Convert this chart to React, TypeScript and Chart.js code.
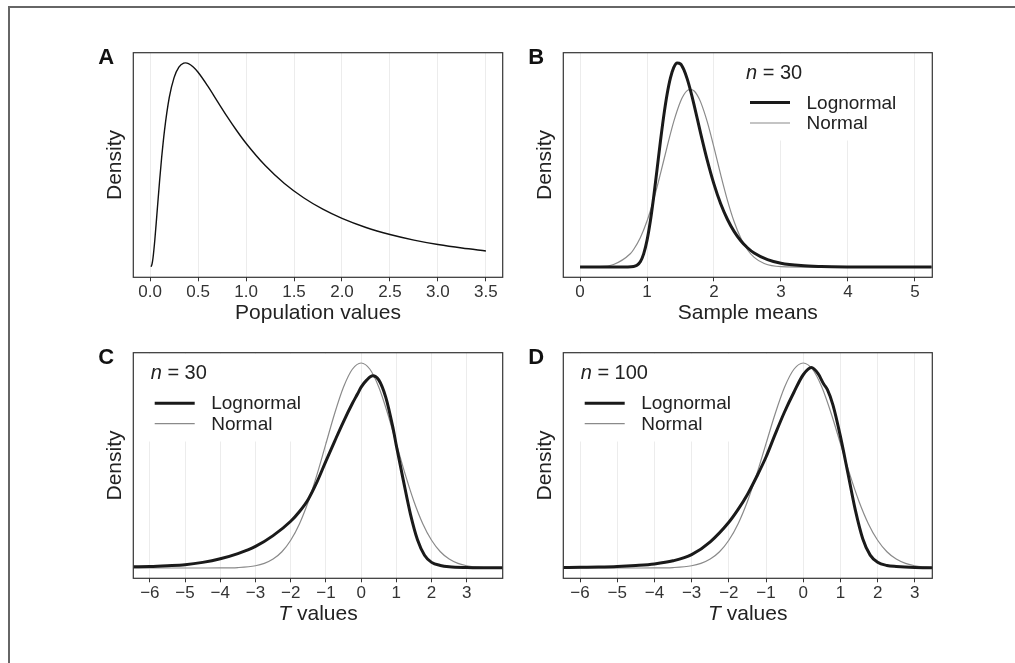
import React, { useEffect, useRef } from "react";
import { Chart, registerables } from "chart.js";

Chart.register(...registerables);

const FONT = '"Liberation Sans", Arial, Helvetica, sans-serif';

// ---------- Panel A: population (lognormal) ----------
const A_X = [0.01, 0.02, 0.03, 0.05, 0.07, 0.1, 0.12, 0.15, 0.2, 0.25, 0.3, 0.35, 0.37, 0.4, 0.45, 0.5, 0.6, 0.7, 0.8, 0.9, 1.0, 1.2, 1.4, 1.6, 1.8, 2.0, 2.25, 2.5, 2.75, 3.0, 3.25, 3.5];
const A_Y = [0.001, 0.0095, 0.0284, 0.0898, 0.166, 0.2815, 0.3512, 0.4398, 0.5463, 0.6104, 0.6442, 0.6569, 0.6577, 0.6554, 0.6445, 0.6275, 0.5836, 0.5348, 0.4864, 0.4408, 0.3989, 0.327, 0.2693, 0.2233, 0.1865, 0.1569, 0.1276, 0.1049, 0.087, 0.0727, 0.0613, 0.052];
const A_TICKS = [0, 0.5, 1, 1.5, 2, 2.5, 3, 3.5];
const A_LABELS = ["0.0", "0.5", "1.0", "1.5", "2.0", "2.5", "3.0", "3.5"];

// ---------- Panel B: sample means, n = 30 ----------
const B_LOG_X = [0, 0.5, 0.7, 0.8, 0.85, 0.9, 0.95, 1.0, 1.05, 1.1, 1.15, 1.2, 1.25, 1.3, 1.35, 1.4, 1.45, 1.5, 1.55, 1.6, 1.65, 1.7, 1.8, 1.9, 2.0, 2.1, 2.2, 2.3, 2.4, 2.5, 2.6, 2.8, 3.0, 3.3, 3.6, 4.0, 4.5, 5.25];
const B_LOG_Y = [0, 0, 0.0005, 0.003, 0.01, 0.03, 0.075, 0.152, 0.262, 0.4, 0.556, 0.714, 0.86, 0.983, 1.076, 1.135, 1.16, 1.155, 1.123, 1.07, 1.003, 0.927, 0.762, 0.607, 0.472, 0.36, 0.272, 0.203, 0.15, 0.11, 0.08, 0.042, 0.022, 0.0085, 0.0035, 0.001, 0.0003, 0];
const B_NORM_X = [0, 0.25, 0.5, 0.75, 0.8, 0.9, 1.0, 1.1, 1.2, 1.3, 1.4, 1.5, 1.55, 1.6, 1.65, 1.7, 1.75, 1.8, 1.9, 2.0, 2.1, 2.2, 2.3, 2.4, 2.5, 2.6, 2.75, 3.0, 3.5, 4.0, 5.25];
const B_NORM_Y = [0.0002, 0.0019, 0.0146, 0.0756, 0.1001, 0.1672, 0.2617, 0.3845, 0.5297, 0.6841, 0.8287, 0.9416, 0.9799, 1.0033, 1.011, 1.0025, 0.978, 0.9393, 0.8254, 0.6802, 0.5257, 0.381, 0.2592, 0.165, 0.0987, 0.0553, 0.0206, 0.0029, 0.0001, 0, 0];
const B_TICKS = [0, 1, 2, 3, 4, 5];
const B_LABELS = ["0", "1", "2", "3", "4", "5"];

// ---------- Panels C / D: T values ----------
const C_LOG_X = [-6.47, -6, -5.5, -5, -4.5, -4, -3.5, -3, -2.5, -2, -1.75, -1.5, -1.25, -1, -0.75, -0.5, -0.25, -0.1, 0, 0.15, 0.33, 0.5, 0.7, 0.9, 1.0, 1.2, 1.4, 1.6, 1.8, 2.0, 2.25, 2.5, 3.0, 3.5, 4.02];
const C_LOG_Y = [0.0025, 0.003, 0.0045, 0.0065, 0.011, 0.018, 0.028, 0.042, 0.063, 0.091, 0.11, 0.134, 0.168, 0.208, 0.247, 0.285, 0.32, 0.339, 0.352, 0.365, 0.374, 0.366, 0.332, 0.274, 0.238, 0.17, 0.105, 0.055, 0.025, 0.011, 0.005, 0.0025, 0.001, 0.0005, 0.0003];
const D_LOG_X = [-6.45, -6, -5.5, -5, -4.5, -4, -3.5, -3, -2.5, -2, -1.75, -1.5, -1.25, -1, -0.75, -0.5, -0.25, 0, 0.22, 0.4, 0.55, 0.65, 0.8, 1.0, 1.2, 1.4, 1.6, 1.8, 2.0, 2.25, 2.5, 3.0, 3.47];
const D_LOG_Y = [0.001, 0.0015, 0.002, 0.003, 0.005, 0.008, 0.014, 0.026, 0.051, 0.089, 0.114, 0.143, 0.178, 0.216, 0.261, 0.304, 0.342, 0.376, 0.39, 0.378, 0.358, 0.347, 0.317, 0.256, 0.185, 0.113, 0.057, 0.025, 0.011, 0.005, 0.003, 0.001, 0.0005];
const NORM_T_X = [-6.5, -5, -4.5, -4, -3.5, -3, -2.75, -2.5, -2.25, -2, -1.75, -1.5, -1.25, -1, -0.75, -0.5, -0.25, 0, 0.25, 0.5, 0.75, 1, 1.25, 1.5, 1.75, 2, 2.25, 2.5, 2.75, 3, 3.5, 4.02];
const NORM_T_Y = [0, 0, 0.00002, 0.0001, 0.0009, 0.0044, 0.0091, 0.0175, 0.0317, 0.054, 0.0863, 0.1295, 0.1826, 0.242, 0.3011, 0.3521, 0.3867, 0.3989, 0.3867, 0.3521, 0.3011, 0.242, 0.1826, 0.1295, 0.0863, 0.054, 0.0317, 0.0175, 0.0091, 0.0044, 0.0009, 0.0001];
const T_TICKS = [-6, -5, -4, -3, -2, -1, 0, 1, 2, 3];
const T_LABELS = ["\u22126", "\u22125", "\u22124", "\u22123", "\u22122", "\u22121", "0", "1", "2", "3"];

const SERIES_NAMES = ["Lognormal", "Normal"];
const BLACK = "#1a1a1a";
const GRAY = "#8a8a8a";

const pts = (xs: number[], ys: number[]) => xs.map((x, i) => ({ x, y: ys[i] }));

const decorPlugin = {
  id: "decor",
  beforeDatasetsDraw(chart: any, _a: any, opts: any) {
    const { ctx, chartArea: a } = chart;
    if (opts.legend) {
      const b = opts.legend.box;
      ctx.save();
      ctx.fillStyle = "#ffffff";
      ctx.fillRect(a.left + b[0], a.top + b[1], b[2], b[3]);
      ctx.restore();
    }
  },
  afterDraw(chart: any, _a: any, opts: any) {
    const { ctx, chartArea: a } = chart;
    ctx.save();
    ctx.strokeStyle = "#333333";
    ctx.lineWidth = 1.2;
    ctx.strokeRect(a.left, a.top, a.right - a.left, a.bottom - a.top);

    ctx.fillStyle = "#111111";
    ctx.font = `bold 22px ${FONT}`;
    ctx.textAlign = "center";
    ctx.textBaseline = "middle";
    ctx.fillText(opts.letter, a.left - 27, a.top + 5);

    if (opts.legend) {
      const lx = a.left + opts.legend.x;
      const ly = a.top + opts.legend.y;
      ctx.textAlign = "left";
      ctx.fillStyle = "#222222";
      ctx.font = `italic 20px ${FONT}`;
      ctx.fillText("n", lx, ly);
      const w = ctx.measureText("n").width;
      ctx.font = `20px ${FONT}`;
      ctx.fillText(" = " + opts.legend.n, lx + w, ly);
      chart.data.datasets.forEach((ds: any, i: number) => {
        const yy = ly + 29.5 + i * 20.5;
        ctx.strokeStyle = ds.borderColor;
        ctx.lineWidth = ds.borderWidth;
        ctx.beginPath();
        ctx.moveTo(lx + 4, yy);
        ctx.lineTo(lx + 44, yy);
        ctx.stroke();
        ctx.font = `19px ${FONT}`;
        ctx.fillText(ds.label, lx + 60.5, yy + 1);
      });
    }

    if (opts.italicTitle) {
      const cx = (a.left + a.right) / 2;
      const cy = a.bottom + 35.7;
      ctx.font = `italic 21px ${FONT}`;
      const w1 = ctx.measureText(opts.italicTitle[0]).width;
      ctx.font = `21px ${FONT}`;
      const w2 = ctx.measureText(opts.italicTitle[1]).width;
      const x0 = cx - (w1 + w2) / 2;
      ctx.fillStyle = "#222222";
      ctx.textAlign = "left";
      ctx.textBaseline = "middle";
      ctx.font = `italic 21px ${FONT}`;
      ctx.fillText(opts.italicTitle[0], x0, cy);
      ctx.font = `21px ${FONT}`;
      ctx.fillText(opts.italicTitle[1], x0 + w1, cy);
    }
    ctx.restore();
  },
};

type PanelProps = {
  left: number;
  top: number;
  width: number;
  height: number;
  plotLeft: number;
  plotTop: number;
  plotRight: number;
  plotBottom: number;
  xMin: number;
  xMax: number;
  yMin: number;
  yMax: number;
  ticks: number[];
  labels: string[];
  datasets: any[];
  xTitle?: string;
  italicTitle?: [string, string];
  letter: string;
  legend?: any;
};

function Panel(p: PanelProps) {
  const ref = useRef<HTMLCanvasElement>(null);
  useEffect(() => {
    const yAxisW = p.plotLeft - p.left;
    const xAxisH = p.top + p.height - p.plotBottom;
    const chart = new Chart(ref.current!, {
      type: "line",
      data: { datasets: p.datasets },
      plugins: [decorPlugin],
      options: {
        animation: false,
        responsive: false,
        maintainAspectRatio: false,
        devicePixelRatio: 1,
        layout: {
          autoPadding: false,
          padding: {
            left: 0,
            bottom: 0,
            top: p.plotTop - p.top,
            right: p.left + p.width - p.plotRight,
          },
        },
        elements: { point: { radius: 0 } },
        plugins: {
          legend: { display: false },
          tooltip: { enabled: false },
          decor: { letter: p.letter, legend: p.legend, italicTitle: p.italicTitle },
        } as any,
        scales: {
          x: {
            type: "linear",
            min: p.xMin,
            max: p.xMax,
            afterBuildTicks: (s: any) => {
              s.ticks = p.ticks.map((v) => ({ value: v }));
            },
            afterFit: (s: any) => {
              s.height = xAxisH;
            },
            ticks: {
              callback: (_v: any, i: number) => p.labels[i],
              font: { size: 17, family: FONT },
              color: "#333333",
              padding: 1,
              maxRotation: 0,
              autoSkip: false,
            },
            grid: {
              color: "#ececec",
              lineWidth: 1,
              drawTicks: true,
              tickLength: 4,
              tickColor: "#333333",
              tickWidth: 1,
            },
            border: { display: false },
            title: {
              display: !!p.xTitle,
              text: p.xTitle || "",
              font: { size: 21, family: FONT },
              color: "#222222",
              padding: { top: 0, bottom: 4.4 },
            },
          },
          y: {
            type: "linear",
            min: p.yMin,
            max: p.yMax,
            afterFit: (s: any) => {
              s.width = yAxisW;
            },
            ticks: { display: false },
            grid: { display: false },
            border: { display: false },
            title: {
              display: true,
              text: "Density",
              font: { size: 21, family: FONT },
              color: "#222222",
              padding: { top: 42.4, bottom: 0 },
            },
          },
        },
      } as any,
    });
    return () => chart.destroy();
  }, []);
  return (
    <canvas
      ref={ref}
      width={p.width}
      height={p.height}
      style={{ position: "absolute", left: p.left, top: p.top, width: p.width, height: p.height }}
    />
  );
}

const line = (label: string, data: any[], color: string, width: number) => ({
  label,
  data,
  borderColor: color,
  borderWidth: width,
  pointRadius: 0,
  fill: false,
  cubicInterpolationMode: "monotone",
  clip: 0,
});

export default function App() {
  Chart.defaults.font.family = FONT;
  return (
    <div style={{ position: "absolute", left: 0, top: 0, width: 1015, height: 663, overflow: "hidden", background: "#fff" }}>
      <div
        style={{
          position: "absolute",
          left: 8,
          top: 6,
          width: 1007,
          height: 657,
          boxSizing: "border-box",
          borderTop: "2px solid #666",
          borderLeft: "2px solid #666",
        }}
      />
      <Panel
        left={60} top={30} width={450} height={300}
        plotLeft={133.3} plotTop={52.7} plotRight={502.7} plotBottom={277.3}
        xMin={-0.175} xMax={3.675} yMin={-0.0329} yMax={0.6906}
        ticks={A_TICKS} labels={A_LABELS}
        xTitle="Population values" letter="A"
        datasets={[line("Population", pts(A_X, A_Y), "#111111", 1.4)]}
      />
      <Panel
        left={490} top={30} width={450} height={300}
        plotLeft={563.3} plotTop={52.7} plotRight={932.3} plotBottom={277.3}
        xMin={-0.25} xMax={5.26} yMin={-0.058} yMax={1.219}
        ticks={B_TICKS} labels={B_LABELS}
        xTitle="Sample means" letter="B"
        legend={{ x: 182.7, y: 20.3, n: "30", box: [171, 0.8, 176, 87] }}
        datasets={[
          line(SERIES_NAMES[0], pts(B_LOG_X, B_LOG_Y), BLACK, 3),
          line(SERIES_NAMES[1], pts(B_NORM_X, B_NORM_Y), GRAY, 1.2),
        ]}
      />
      <Panel
        left={60} top={330} width={450} height={300}
        plotLeft={133.3} plotTop={352.7} plotRight={502.7} plotBottom={578.3}
        xMin={-6.47} xMax={4.02} yMin={-0.02} yMax={0.4189}
        ticks={T_TICKS} labels={T_LABELS}
        italicTitle={["T", " values"]} letter="C"
        legend={{ x: 17.4, y: 21, n: "30", box: [0.8, 0.8, 202, 88] }}
        datasets={[
          line(SERIES_NAMES[0], pts(C_LOG_X, C_LOG_Y), BLACK, 3),
          line(SERIES_NAMES[1], pts(NORM_T_X, NORM_T_Y), GRAY, 1.2),
        ]}
      />
      <Panel
        left={490} top={330} width={450} height={300}
        plotLeft={563.3} plotTop={352.7} plotRight={932.3} plotBottom={578.3}
        xMin={-6.45} xMax={3.47} yMin={-0.02} yMax={0.4189}
        ticks={T_TICKS} labels={T_LABELS}
        italicTitle={["T", " values"]} letter="D"
        legend={{ x: 17.4, y: 21, n: "100", box: [0.8, 0.8, 208, 88] }}
        datasets={[
          line(SERIES_NAMES[0], pts(D_LOG_X, D_LOG_Y), BLACK, 3),
          line(SERIES_NAMES[1], pts(NORM_T_X, NORM_T_Y), GRAY, 1.2),
        ]}
      />
    </div>
  );
}
